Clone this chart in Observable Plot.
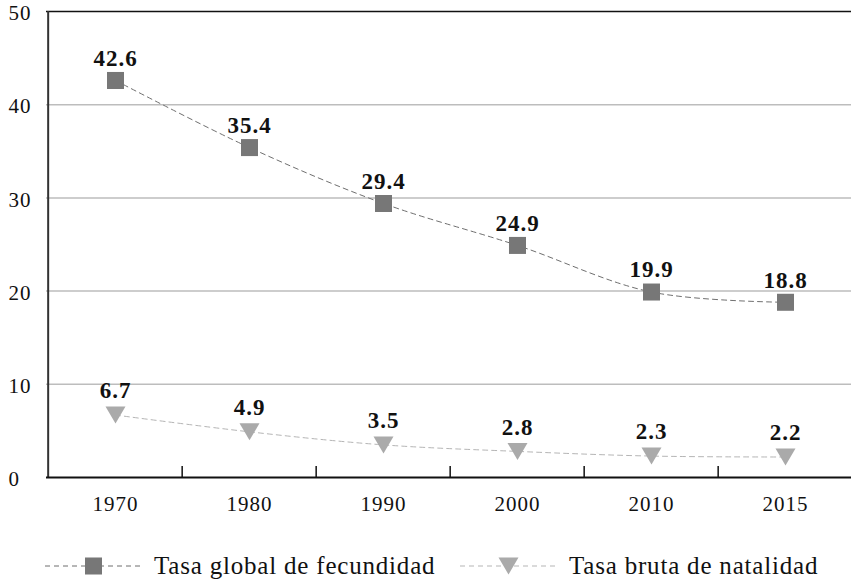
<!DOCTYPE html>
<html><head><meta charset="utf-8">
<script src="https://cdn.jsdelivr.net/npm/d3@7"></script>
<script src="https://cdn.jsdelivr.net/npm/@observablehq/plot@0.6"></script>
<style>
html,body{margin:0;padding:0;background:#fff;}
#chart{width:851px;}
.legend{position:relative;width:851px;height:53px;font-family:"Liberation Serif","Times New Roman",Tinos,"DejaVu Serif",serif;font-size:25px;letter-spacing:0.8px;color:#111;}
.item{position:absolute;top:21px;display:flex;align-items:center;white-space:nowrap;line-height:30px;}
.item svg{margin-right:12px;}
#chart svg text{font-family:"Liberation Serif","Times New Roman",Tinos,"DejaVu Serif",serif;letter-spacing:1px;}
</style></head><body>
<div id="chart"></div>
<div class="legend" id="legend"></div>
<script>
const years = ["1970", "1980", "1990", "2000", "2010", "2015"];
const fecundidad = [42.6, 35.4, 29.4, 24.9, 19.9, 18.8];
const natalidad = [6.7, 4.9, 3.5, 2.8, 2.3, 2.2];
const yTicks = [0, 10, 20, 30, 40, 50];
const gridTicks = [10, 20, 30, 40];
const seriesNames = ["Tasa global de fecundidad", "Tasa bruta de natalidad"];

const W = 851, H = 530, mTop = 11, mBottom = 53, mLeft = 46;
const xRange = [46, 854];
const step = (xRange[1] - xRange[0]) / years.length;
const pxPerUnit = (H - mTop - mBottom) / 50;
const tickLen = 11 / pxPerUnit;

const dataF = years.map((y, i) => ({year: y, value: fecundidad[i]}));
const dataN = years.map((y, i) => ({year: y, value: natalidad[i]}));

const triDown = {
  draw(ctx, size) {
    const r = Math.sqrt(size / Math.PI);
    const w = r, h = r * 0.85;
    ctx.moveTo(-w, -h); ctx.lineTo(w, -h); ctx.lineTo(0, h); ctx.closePath();
  }
};

const font = "'Liberation Serif', 'Times New Roman', Tinos, 'DejaVu Serif', serif";
const chart = Plot.plot({
  width: W, height: H,
  marginTop: mTop, marginBottom: mBottom, marginLeft: mLeft, marginRight: 0,
  style: {fontFamily: font, color: "#111", background: "#fff"},
  x: {type: "point", domain: years, range: xRange, padding: 0.5, axis: null},
  y: {domain: [0, 50], axis: null},
  marks: [
    Plot.ruleY(gridTicks, {stroke: "#bdbdbd", strokeWidth: 1.5}),
    Plot.ruleY([50], {stroke: "#111", strokeWidth: 1.5}),
    Plot.line(dataF, {x: "year", y: "value", stroke: "#6f6f6f", strokeWidth: 1, strokeDasharray: "5,4", curve: "catmull-rom"}),
    Plot.line(dataN, {x: "year", y: "value", stroke: "#b5b5b5", strokeWidth: 1, strokeDasharray: "5,4", curve: "catmull-rom"}),
    Plot.dot(dataF, {x: "year", y: "value", symbol: "square", r: 9.6, fill: "#777", stroke: null}),
    Plot.dot(dataN, {x: "year", y: "value", symbol: triDown, r: 10, fill: "#aaa", stroke: null}),
    Plot.text(dataF, {x: "year", y: "value", text: d => d.value.toFixed(1), dy: -22, fontSize: 23, fontWeight: "bold", fill: "#111"}),
    Plot.text(dataN, {x: "year", y: "value", text: d => d.value.toFixed(1), dy: -24, fontSize: 23, fontWeight: "bold", fill: "#111"}),
    Plot.ruleX([years[0]], {dx: -step / 2, y1: 0, y2: 50, stroke: "#333", strokeWidth: 2}),
    Plot.ruleY([0], {stroke: "#111", strokeWidth: 2}),
    Plot.ruleX(years.slice(1), {dx: -step / 2, y1: 0, y2: tickLen, stroke: "#111", strokeWidth: 1.5}),
    Plot.text(years, {x: d => d, frameAnchor: "bottom", dy: 33, fontSize: 21, fill: "#111"}),
    Plot.text(yTicks, {y: d => d, text: d => String(d), frameAnchor: "left", dx: -38, dy: 2, textAnchor: "start", fontSize: 21, fill: "#111"})
  ]
});
document.getElementById("chart").appendChild(chart);

const legend = document.getElementById("legend");
const swatch = (kind) => {
  const color = kind === "square" ? "#777" : "#aaa";
  const line = kind === "square" ? "#6f6f6f" : "#b5b5b5";
  const shape = kind === "square"
    ? `<rect x="40" y="3.5" width="17" height="17" fill="${color}"/>`
    : `<path d="M38.5,3.5 L58.5,3.5 L48.5,20.5 Z" fill="${color}"/>`;
  return `<svg width="97" height="24"><line x1="0" x2="97" y1="12" y2="12" stroke="${line}" stroke-dasharray="5,4"/>${shape}</svg>`;
};
legend.innerHTML =
  `<div class="item" style="left:45px">${swatch("square")}<span>${seriesNames[0]}</span></div>` +
  `<div class="item" style="left:460px">${swatch("tri")}<span>${seriesNames[1]}</span></div>`;
</script>
</body></html>
